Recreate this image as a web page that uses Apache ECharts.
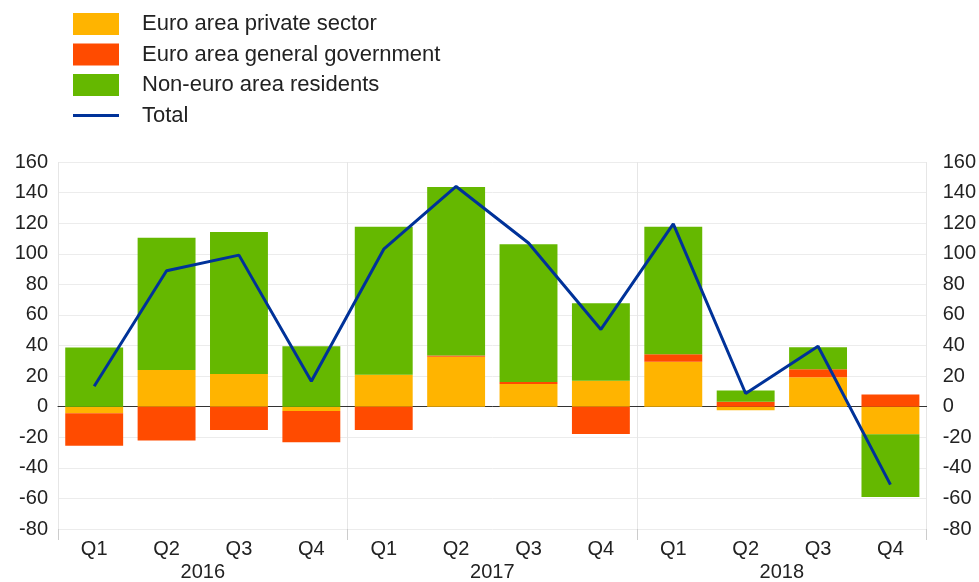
<!DOCTYPE html>
<html><head><meta charset="utf-8">
<script src="https://cdn.jsdelivr.net/npm/echarts@6/dist/echarts.min.js"></script>
<style>html,body{margin:0;padding:0;background:#fff}#c{width:979px;height:582px}</style>
</head><body><div id="c"></div>
<script>
const quarters = ['Q1','Q2','Q3','Q4','Q1','Q2','Q3','Q4','Q1','Q2','Q3','Q4'];
const years = ['2016','2017','2018'];
const privateSector = [-4.3, 24.0, 21.4, -2.8, 20.9, 32.6, 14.9, 17.0, 29.3, -2.4, 19.2, -18];
const generalGov    = [-21.2, -22.2, -15.3, -20.5, -15.3, 0.9, 1.3, -17.9, 5.0, 3.2, 5.2, 8];
const nonEuro       = [38.7, 86.5, 92.8, 39.5, 96.8, 110.1, 90.0, 50.6, 83.4, 7.4, 14.5, -41];
const total         = [13.4, 88.9, 99.1, 16.6, 103, 144, 107, 50.5, 119.5, 8.6, 39.5, -51];
const yTicks = {min: -80, max: 160, interval: 20};

const font = 'Liberation Sans, Arial, sans-serif';
const chart = echarts.init(document.getElementById('c'));
const yAxisBase = {
  type: 'value', min: yTicks.min, max: yTicks.max, interval: yTicks.interval,
  axisLine: {show: false}, axisTick: {show: false},
  axisLabel: {color: '#222', fontSize: 20, fontFamily: font},
};
chart.setOption({
  animation: false,
  textStyle: {fontFamily: font},
  legend: {
    orient: 'vertical', left: 68, top: 8,
    itemWidth: 46, itemHeight: 22, itemGap: 8.5,
    textStyle: {fontSize: 22, color: '#222', fontFamily: font, padding: [0,0,0,18]},
    data: [
      {name: 'Euro area private sector', icon: 'rect'},
      {name: 'Euro area general government', icon: 'rect'},
      {name: 'Non-euro area residents', icon: 'rect'},
      {name: 'Total', icon: 'path://M0,0 H46 V3 H0 Z', itemStyle: {color: '#003299', borderWidth: 0}}
    ]
  },
  grid: {left: 58, right: 52, top: 162, bottom: 50},
  xAxis: [
    {type: 'category', data: quarters, position: 'bottom',
     axisLine: {show: false, onZero: false}, axisTick: {show: false},
     axisLabel: {color: '#222', fontSize: 20, fontFamily: font, margin: 10},
     splitLine: {show: false}},
    {type: 'category', data: years, position: 'bottom',
     axisLine: {show: false, onZero: false},
     axisTick: {show: true, length: 11, lineStyle: {color: '#ccc'}},
     axisLabel: {color: '#222', fontSize: 20, fontFamily: font, margin: 33},
     splitLine: {show: true, lineStyle: {color: '#e6e6e6'}}},
    {type: 'category', data: quarters, position: 'bottom',
     axisLine: {show: true, onZero: true, lineStyle: {color: '#333', width: 1}},
     axisTick: {show: false}, axisLabel: {show: false}, splitLine: {show: false}}
  ],
  yAxis: [
    Object.assign({}, yAxisBase, {position: 'left', axisLabel: Object.assign({}, yAxisBase.axisLabel, {margin: 10}),
      splitLine: {show: true, lineStyle: {color: '#ececec'}}}),
    Object.assign({}, yAxisBase, {position: 'right', axisLabel: Object.assign({}, yAxisBase.axisLabel, {margin: 16}),
      splitLine: {show: false}})
  ],
  series: [
    {name: 'Euro area private sector', type: 'bar', stack: 's', data: privateSector,
     itemStyle: {color: '#FFB400'}, barCategoryGap: '20%'},
    {name: 'Euro area general government', type: 'bar', stack: 's', data: generalGov,
     itemStyle: {color: '#FF4B00'}},
    {name: 'Non-euro area residents', type: 'bar', stack: 's', data: nonEuro,
     itemStyle: {color: '#65B800'}},
    {name: 'Total', type: 'line', data: total, symbol: 'none', z: 5,
     lineStyle: {color: '#003299', width: 3}, itemStyle: {color: '#003299'}}
  ]
});
</script></body></html>
